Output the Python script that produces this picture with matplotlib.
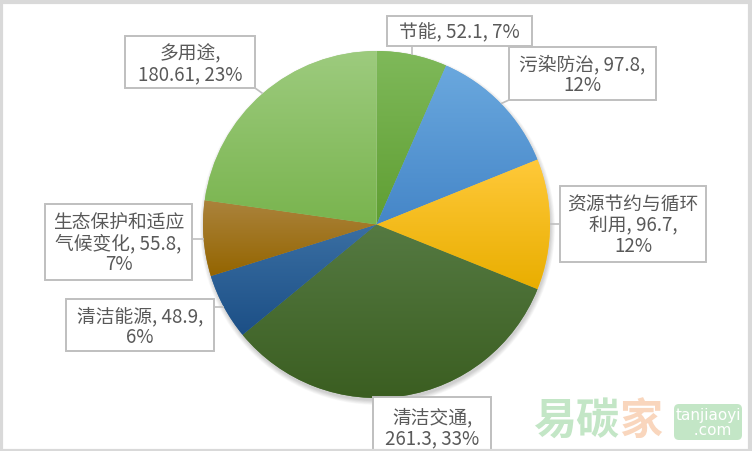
import numpy as np
import matplotlib
matplotlib.use('agg')
import matplotlib.pyplot as plt
from matplotlib.patches import Rectangle, Circle, FancyBboxPatch
from matplotlib.colors import LinearSegmentedColormap

plt.rcParams['font.family'] = ['Noto Sans CJK SC', 'DejaVu Sans']

# data
names = ['节能', '污染防治', '资源节约与循环\n利用', '清洁交通', '清洁能源',
         '生态保护和适应\n气候变化', '多用途']
values = [52.1, 97.8, 96.7, 261.3, 48.9, 55.8, 180.61]
# (top colour, bottom colour) of each slice's gradient
grads = [('#7fb95a', '#5f9e32'),
         ('#6aa8de', '#4586c8'),
         ('#ffc93a', '#e9ae00'),
         ('#557a42', '#3b5e21'),
         ('#3a6fa3', '#1c4f86'),
         ('#ab833c', '#946500'),
         ('#9dcb7e', '#79b44e')]
# how name / value / percent are joined in each label
seps = [(' ', ' '), (' ', '\n'), (' ', '\n'), ('\n', ' '), (' ', '\n'), (' ', '\n'), ('\n', ' ')]
# label boxes in pixels: x0, y0 (top), x1, y1 (bottom)
boxes = [(387, 17, 532, 47),
         (509, 48, 656, 101),
         (560, 187, 706, 263),
         (373, 398, 491, 456),
         (66, 300, 214, 352),
         (45, 205, 192, 281),
         (125, 37, 255, 89)]

W, H = 752, 452
cx, cy, R = 376.5, H - 225.5, 173.5

fig = plt.figure(figsize=(W / 100, H / 100), dpi=100)
ax = fig.add_axes([0, 0, 1, 1])
ax.axis('off')

# soft shadow under the pie
for k in range(8):
    ax.add_patch(Circle((cx + 1, cy - 3), R + 4 - k * 0.6, color='#000000', alpha=0.025, lw=0, zorder=1))

wedges, _ = ax.pie(values, startangle=90, counterclock=False, center=(cx, cy), radius=R,
                   colors=[g[0] for g in grads], wedgeprops=dict(linewidth=0, zorder=2))

grad = np.linspace(0, 1, 256)[:, None]
for w, (ctop, cbot) in zip(wedges, grads):
    ts = np.radians(np.linspace(w.theta1, w.theta2, 200))
    xs = np.concatenate([[cx], cx + R * np.cos(ts)])
    ys = np.concatenate([[cy], cy + R * np.sin(ts)])
    cmap = LinearSegmentedColormap.from_list('g', [cbot, ctop])
    im = ax.imshow(grad, extent=(xs.min(), xs.max(), ys.min(), ys.max()), origin='lower',
                   cmap=cmap, aspect='auto', zorder=3, interpolation='bilinear')
    im.set_clip_path(w)

ax.set_xlim(0, W)
ax.set_ylim(0, H)
ax.set_aspect('auto')

total = sum(values)
cum = 0
for i, (name, v) in enumerate(zip(names, values)):
    pct = round(v / total * 100)
    s1, s2 = seps[i]
    txt = f'{name},{s1}{v},{s2}{pct}%'
    mid = np.radians(90 - (cum + v / 2) / total * 360)
    cum += v
    px, py = cx + R * np.cos(mid), cy + R * np.sin(mid)
    x0, t0, x1, b0 = boxes[i]
    y0, y1 = H - b0, H - t0
    # connector from the nearest point of the box to the slice edge
    ax_ = min(max(px, x0), x1)
    ay_ = min(max(py, y0), y1)
    ax.plot([ax_, px], [ay_, py], color='#bfbfbf', lw=1.2, zorder=4, solid_capstyle='butt')
    ax.add_patch(Rectangle((x0, y0), x1 - x0, y1 - y0, facecolor='white', edgecolor='#bfbfbf',
                           lw=1.4, zorder=5))
    ax.text((x0 + x1) / 2, (y0 + y1) / 2 - 1, txt, ha='center', va='center', fontsize=13.5,
            color='#595959', linespacing=0.98, zorder=6)

# watermark
t1 = ax.text(533, H - 421, '易碳', fontsize=31, color='#c3e6c6', ha='left', va='center',
             fontweight='bold', zorder=7)
fig.canvas.draw()
bb = t1.get_window_extent().transformed(ax.transData.inverted())
ax.text(bb.x1, H - 421, '家', fontsize=31, color='#f9d6bd', ha='left', va='center',
        fontweight='bold', zorder=7)
ax.add_patch(FancyBboxPatch((674, H - 441), 68, 36, boxstyle='round,pad=0,rounding_size=5',
                            facecolor='#c3e6c6', edgecolor='none', zorder=7))
ax.text(708, H - 423, 'tanjiaoyi\n  .com', fontsize=11, color='white', ha='center', va='center',
        linespacing=0.95, zorder=8, family='DejaVu Sans')

# outer frame
ax.add_patch(Rectangle((0.5, 0.5), W - 3, H - 3, facecolor='none', edgecolor='#d9d9d9', lw=3, zorder=9))

fig.savefig('out.png', dpi=100)
